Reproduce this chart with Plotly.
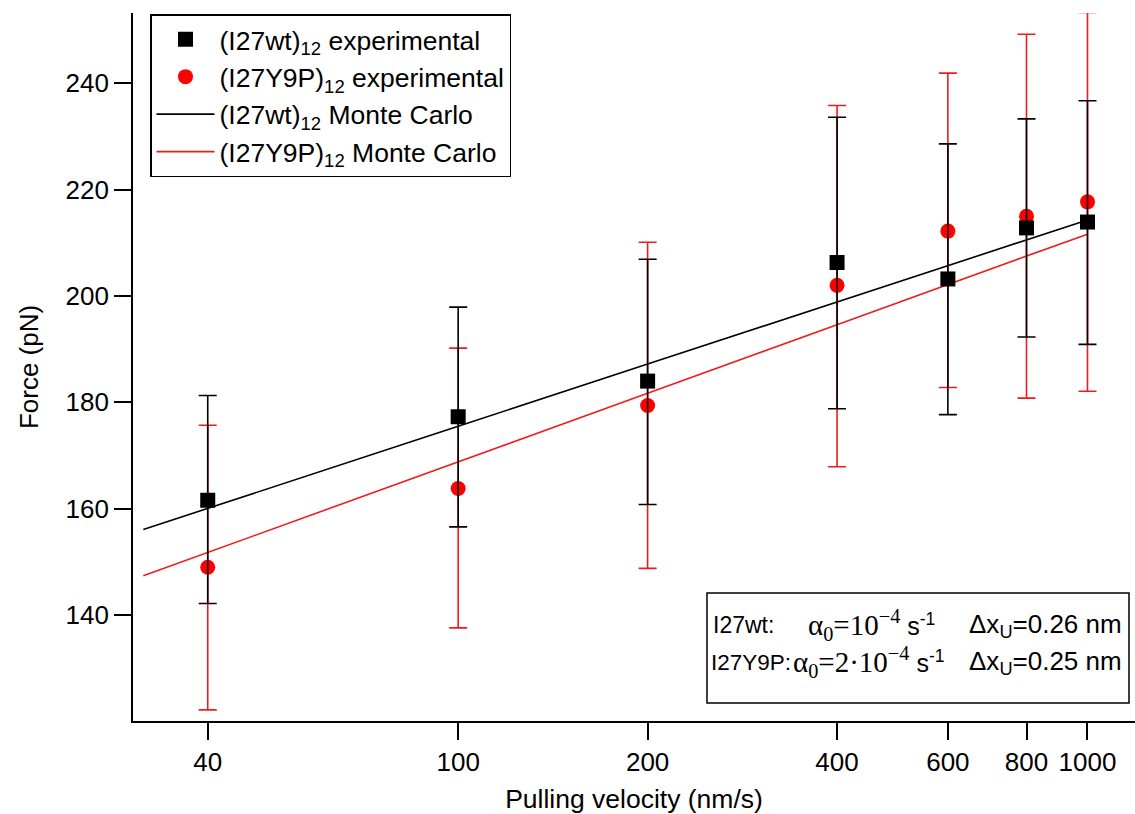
import plotly.graph_objects as go

# ---------------- data ----------------
velocity = [40, 100, 200, 400, 600, 800, 1000]          # nm/s
tick_labels = ["40", "100", "200", "400", "600", "800", "1000"]

wt_force = [161.6, 177.3, 184.0, 206.3, 203.2, 212.8, 213.9]
wt_upper = [181.3, 197.9, 206.9, 233.6, 228.6, 233.3, 236.7]
wt_lower = [142.2, 156.6, 160.8, 178.8, 177.7, 192.3, 190.9]

y9p_force = [149.0, 163.8, 179.4, 202.0, 212.2, 215.0, 217.7]
y9p_upper = [175.7, 190.2, 210.1, 235.8, 241.9, 249.2, 253.3]
y9p_lower = [122.2, 137.6, 148.8, 167.9, 182.8, 180.8, 182.1]

mc_velocity = [31.6, 40, 100, 200, 400, 600, 800, 1000]
mc_wt = [156.1, 160.1, 175.5, 187.2, 198.9, 205.7, 210.6, 214.3]
mc_y9p = [147.4, 151.8, 168.8, 181.7, 194.6, 202.2, 207.5, 211.6]

FONT = "Liberation Sans, Arial, sans-serif"

def plus(v, hi):
    return [h - x for x, h in zip(v, hi)]

def minus(v, lo):
    return [x - l for x, l in zip(v, lo)]

fig = go.Figure()

fig.add_trace(go.Scatter(
    x=mc_velocity, y=mc_wt, mode="lines",
    line=dict(color="black", width=1.6),
    name="(I27wt)<sub>12</sub> Monte Carlo", legendrank=3))
fig.add_trace(go.Scatter(
    x=mc_velocity, y=mc_y9p, mode="lines",
    line=dict(color="#ee1c1c", width=1.6),
    name="(I27Y9P)<sub>12</sub> Monte Carlo", legendrank=4))

fig.add_trace(go.Scatter(
    x=velocity, y=y9p_force, mode="markers",
    marker=dict(symbol="circle", size=15, color="#ff0000"),
    error_y=dict(type="data", symmetric=False,
                 array=plus(y9p_force, y9p_upper),
                 arrayminus=minus(y9p_force, y9p_lower),
                 color="#ee1c1c", thickness=1.6, width=9),
    name="(I27Y9P)<sub>12</sub> experimental", legendrank=2))
fig.add_trace(go.Scatter(
    x=velocity, y=wt_force, mode="markers",
    marker=dict(symbol="square", size=15, color="black"),
    error_y=dict(type="data", symmetric=False,
                 array=plus(wt_force, wt_upper),
                 arrayminus=minus(wt_force, wt_lower),
                 color="black", thickness=1.6, width=9),
    name="(I27wt)<sub>12</sub> experimental", legendrank=1))

# ---------------- layout ----------------
W, H = 1135, 814
L, R, T, B = 133, 0, 13, 93
pw, ph = W - L - R, H - T - B

def px(xp):
    return (xp - L) / pw

def py(yp):
    return (H - B - yp) / ph

fig.update_layout(
    width=W, height=H,
    margin=dict(l=L, r=R, t=T, b=B, autoexpand=False),
    paper_bgcolor="white", plot_bgcolor="white",
    font=dict(family=FONT, size=24, color="black"),
    showlegend=True,
    legend=dict(x=px(150), y=py(14), xanchor="left", yanchor="top",
                bgcolor="white", bordercolor="black", borderwidth=1.5,
                font=dict(family=FONT, size=26.5, color="black"),
                tracegroupgap=0, itemwidth=58),
    xaxis=dict(type="log", range=[1.4833, 3.0755], automargin=False,
               tickvals=velocity, ticktext=tick_labels,
               ticks="outside", ticklen=17, tickwidth=1.5, tickcolor="black",
               showline=True, linecolor="black", linewidth=1.8,
               showgrid=False, zeroline=False, mirror=False,
               tickfont=dict(family=FONT, size=26),
               title=dict(text="Pulling velocity (nm/s)", standoff=14,
                          font=dict(family=FONT, size=26.5))),
    yaxis=dict(range=[120.1, 253.2], tickvals=[140, 160, 180, 200, 220, 240],
               automargin=False,
               ticks="outside", ticklen=17, tickwidth=1.5, tickcolor="black",
               showline=True, linecolor="black", linewidth=1.8,
               showgrid=False, zeroline=False, mirror=False,
               tickfont=dict(family=FONT, size=26),
               title=dict(text="Force (pN)", standoff=19,
                          font=dict(family=FONT, size=26))),
)

# parameter box
fig.add_shape(type="rect", xref="paper", yref="paper",
              x0=px(707), x1=px(1129), y0=py(703), y1=py(593),
              line=dict(color="black", width=1.5), fillcolor="white", layer="above")

SER = '<span style="font-family:Liberation Serif;font-size:29px">'
alpha_wt = SER + '&#945;<sub>0</sub>=10<sup>&#8722;4</sup></span> s<sup>-1</sup>'
alpha_y9p = SER + '&#945;<sub>0</sub>=2&#183;10<sup>&#8722;4</sup></span> s<sup>-1</sup>'
rows = [
    (625, [(711, "I27wt:", 23), (806, alpha_wt, 25), (967, "&#916;x<sub>U</sub>=0.26 nm", 26)]),
    (662, [(709, "I27Y9P:", 22.5), (791, alpha_y9p, 25), (967, "&#916;x<sub>U</sub>=0.25 nm", 26)]),
]
for yy, segs in rows:
    for xx, txt, fs in segs:
        fig.add_annotation(x=px(xx), y=py(yy), xref="paper", yref="paper",
                           text=txt, showarrow=False, xanchor="left", yanchor="middle",
                           font=dict(family=FONT, size=fs, color="black"))

fig.write_html("out.html",
               config={"displayModeBar": False},
               post_script="document.body.style.margin='0';document.body.style.overflow='hidden';")
